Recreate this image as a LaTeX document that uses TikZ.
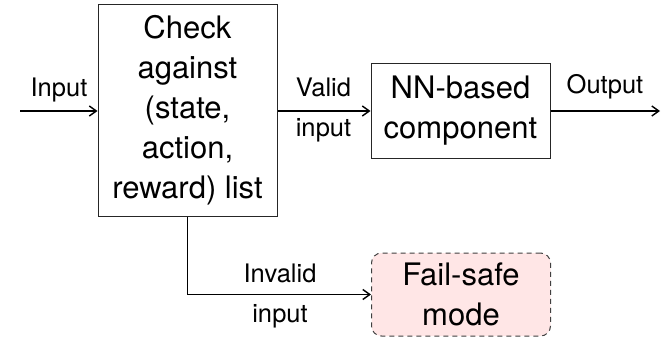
\documentclass[tikz,border=0pt]{standalone}
\usepackage{fontspec}
\setmainfont{TeX Gyre Heros}
\usetikzlibrary{arrows.meta}
\definecolor{safepink}{HTML}{FFE6E6}
\begin{document}
\begin{tikzpicture}[x=1pt,y=-1pt,
  block/.style={draw=black!85, line width=1pt, minimum width=179pt, align=center,
    font=\fontsize{31}{40}\selectfont, inner sep=0pt},
  safebox/.style={block, dashed, dash pattern=on 5pt off 4pt, rounded corners=10pt,
    fill=safepink, draw=black!75},
  lbl/.style={font=\fontsize{25.5}{30}\selectfont, anchor=base, inner sep=0pt},
  flow/.style={line width=1.6pt, -{Straight Barb[length=7pt,width=10pt,line width=1.4pt]}},
  wire/.style={line width=1.6pt}]
\useasboundingbox (0,0) rectangle (662,337);

% processing blocks
\node[block, minimum height=211pt] (check) at (187.5,110.5)
  {Check\\against\\(state,\\action,\\reward) list};
\node[block, minimum height=94pt] (nn) at (460.5,111)
  {NN-based\\component};
\node[safebox, minimum height=83pt] (safe) at (461,294.5)
  {Fail-safe\\mode};

% free ends of the outer connectors
\coordinate (in) at (20,111);
\coordinate (out) at (660,111);
\coordinate (bend) at (check.south |- safe.west);

% connectors
\draw[flow] (in) -- (check.west |- in);
\draw[flow] (check.east |- nn.west) -- (nn.west);
\draw[flow] (nn.east) -- (out);
\draw[wire] (check.south) -- (bend);
\draw[flow] (bend) -- (safe.west);

% connector labels
\node[lbl] (lin) at (59,96) {Input};
\node[lbl] (lvalid) at (323.5,97) {Valid};
\node[lbl] (lvalidin) at (323.5,136) {input};
\node[lbl] (lout) at (605,94) {Output};
\node[lbl] (linvalid) at (280,282) {Invalid};
\node[lbl] (linvalidin) at (280,322) {input};
\end{tikzpicture}
\end{document}
